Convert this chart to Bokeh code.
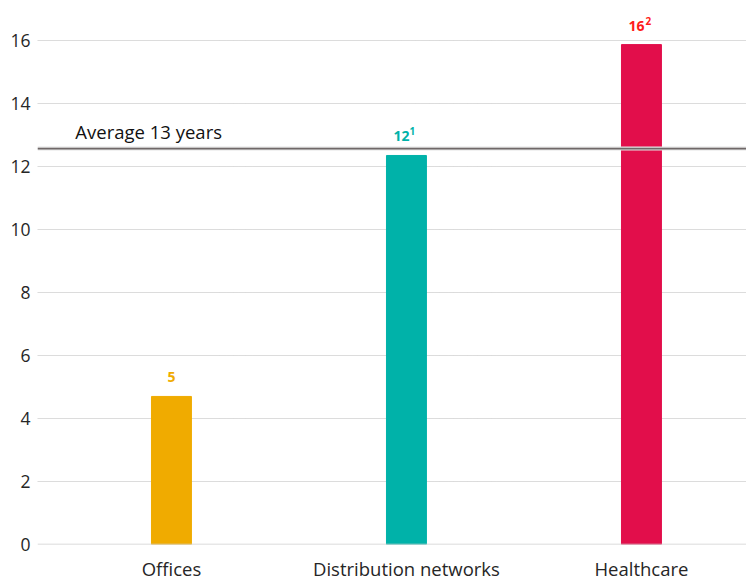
from bokeh.plotting import figure
from bokeh.models import ColumnDataSource, Span, Label, FixedTicker
from bokeh.core.properties import value
from bokeh.embed import file_html
from bokeh.resources import INLINE

categories = ["Offices", "Distribution networks", "Healthcare"]
values = [4.7, 12.35, 15.87]
labels = ["5", "12", "16"]
sup_labels = ["", "1", "2"]
bar_colors = ["#F0AB00", "#00B2A9", "#E20E4B"]
label_colors = ["#F0AB00", "#00B2A9", "#FF1A1A"]
average_value = 12.57
average_text = "Average 13 years"
y_ticks = [0, 2, 4, 6, 8, 10, 12, 14, 16]

xs = list(range(len(categories)))
src = ColumnDataSource(dict(x=xs, top=values, color=bar_colors, lab=labels,
                            sup=sup_labels, lcolor=label_colors,
                            xoff=[0, -5, -5], sxoff=[0, 6, 7]))

FONT = "Open Sans"
p = figure(frame_width=709, frame_height=544, output_backend="svg", toolbar_location=None,
           x_range=(-0.570, 2.447), y_range=(0, 17.27),
           min_border_left=37, min_border_right=0, min_border_top=0,
           min_border_bottom=0)
p.outline_line_color = None
p.background_fill_color = "white"

p.vbar(x="x", top="top", width=0.17, color="color", source=src)

# value labels
p.text(x="x", y="top", text="lab", text_color="lcolor", source=src,
       text_font=value(FONT), text_font_size="14px", text_font_style="bold",
       text_align="center", text_baseline="middle", y_offset=-19,
       x_offset="xoff")
p.text(x="x", y="top", text="sup", text_color="lcolor", source=src,
       text_font=value(FONT), text_font_size="10px", text_font_style="bold",
       text_align="center", text_baseline="middle", y_offset=-24,
       x_offset="sxoff")

# zero line
p.add_layout(Span(location=0, dimension="width", line_color="#d0d0d0", line_width=1.5))

# average line with soft shadow
p.add_layout(Span(location=average_value, dimension="width", line_color="#e4e4e4", line_width=4))
p.add_layout(Span(location=average_value, dimension="width", line_color="#6f6868", line_width=1.8))
p.add_layout(Label(x=-0.409, y=average_value, text=average_text, text_font=FONT,
                   text_font_size="18.5px", text_color="#111111", y_offset=5,
                   text_baseline="bottom"))

p.xaxis.ticker = FixedTicker(ticks=xs)
p.xaxis.major_label_overrides = {i: c for i, c in enumerate(categories)}
p.yaxis.ticker = FixedTicker(ticks=y_ticks)
for ax in (p.xaxis[0], p.yaxis[0]):
    ax.axis_line_color = None
    ax.major_tick_line_color = None
    ax.minor_tick_line_color = None
    ax.major_tick_out = 0
    ax.major_tick_in = 0
    ax.major_label_text_font = FONT
    ax.major_label_text_color = "#262626"
p.xaxis.major_label_text_font_size = "18.5px"
p.yaxis.major_label_text_font_size = "17.5px"
p.xaxis.major_label_standoff = 11
p.yaxis.major_label_standoff = 7

p.xgrid.grid_line_color = None
p.ygrid.grid_line_color = "#b8b8b8"
p.ygrid.grid_line_dash = "1 1"
p.ygrid.grid_line_width = 1

open("out.html", "w").write(file_html(p, INLINE))
